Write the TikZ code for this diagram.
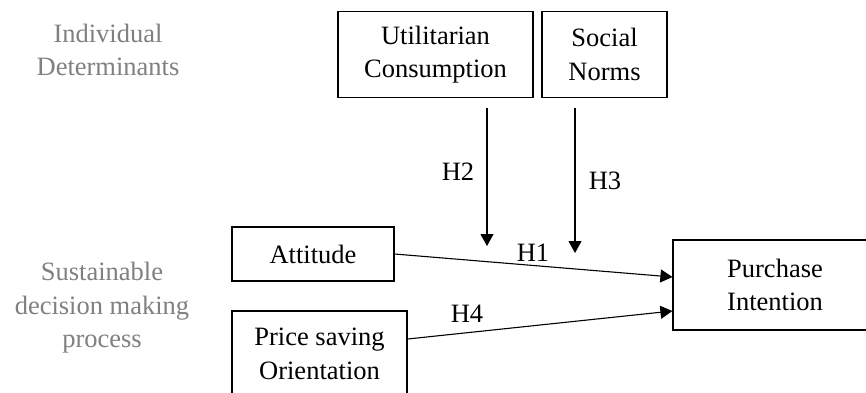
\documentclass[tikz,border=0pt]{standalone}
\usepackage{fontspec}
\setmainfont{Liberation Serif}
\usetikzlibrary{arrows.meta,calc}
\definecolor{greytxt}{RGB}{128,128,128}
\tikzset{
  box/.style={draw=black, line width=1.2pt, align=center, inner sep=0pt},
  lbl/.style={inner sep=0pt},
  grey/.style={text=greytxt, align=center, inner sep=0pt},
  arr/.style={line width=1.1pt, -{Triangle[length=12pt,width=13pt]}}
}
\begin{document}
\begin{tikzpicture}[x=1pt,y=-1pt,font=\fontsize{26.5}{33.5}\selectfont]
\useasboundingbox[fill=white] (0,0) rectangle (866,392);
\begin{scope}
\clip (0,0) rectangle (866,392);
\node[grey] (ind) at (108,50) {Individual\\Determinants};
\node[grey] (sus) at (102,308) {Sustainable\\decision making\\process};
\node[box, minimum width=195, minimum height=86] (uc) at (435.5,54.5) {Utilitarian\\Consumption};
\node[box, minimum width=125, minimum height=86] (sn) at (604.5,54.5) {Social\\Norms};
\node[box, minimum width=162, minimum height=54] (att) at (313,254) {Attitude};
\node[box, minimum width=175, minimum height=86] (ps) at (319.5,354) {Price saving\\Orientation};
\node[box, minimum width=204, minimum height=90] (pi) at (775,285) {Purchase\\Intention};
\coordinate (h2s) at (487,108);
\coordinate (h2e) at (487,246);
\coordinate (h3s) at (575,108);
\coordinate (h3e) at (575,253);
\draw[arr] (h2s) -- (h2e);
\draw[arr] (h3s) -- (h3e);
\draw[arr] (att.east) -- ($(pi.west)+(0,-8)$);
\draw[arr] ($(ps.east)+(0,-15)$) -- ($(pi.west)+(0,26)$);
\node[lbl] (lh2) at (458,172) {H2};
\node[lbl] (lh3) at (605,181) {H3};
\node[lbl] (lh1) at (533,253) {H1};
\node[lbl] (lh4) at (467,314) {H4};
\end{scope}
\end{tikzpicture}
\end{document}
